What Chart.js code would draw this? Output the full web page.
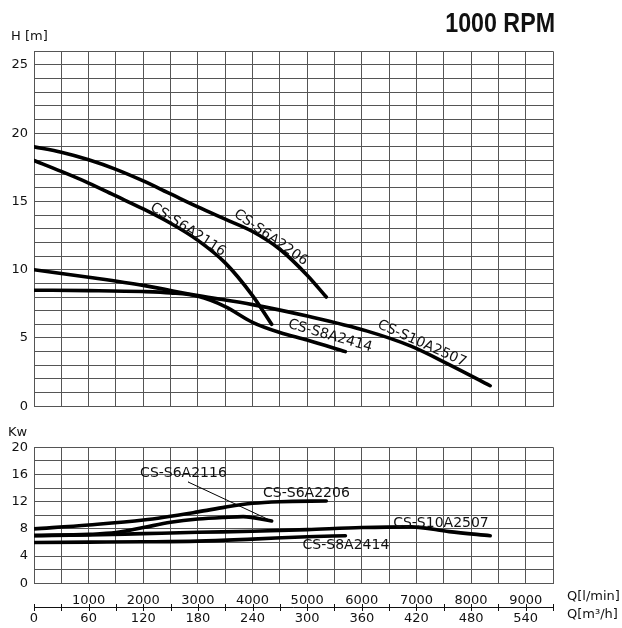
<!DOCTYPE html>
<html>
<head>
<meta charset="utf-8">
<script src="https://cdn.jsdelivr.net/npm/chart.js@4.4.1/dist/chart.umd.min.js"></script>
<style>
html, body { margin: 0; padding: 0; background: #fff; }
#haut { position: absolute; left: 0; top: 0; }
#bas { position: absolute; left: 0; top: 420px; }
</style>
</head>
<body>
<canvas id="haut" width="622" height="420"></canvas>
<canvas id="bas" width="622" height="208"></canvas>
<script>
// courbes H-Q (debit en l/min, hauteur en m)
const qS6A2206 = [0, 500, 1000, 1500, 2000, 2500, 3000, 3500, 4000, 4500, 5000, 5350];
const hS6A2206 = [19.0, 18.6, 18.05, 17.35, 16.5, 15.55, 14.6, 13.7, 12.8, 11.5, 9.6, 8.0];

const qS6A2116 = [0, 500, 1000, 1500, 2000, 2500, 3000, 3500, 4000, 4350];
const hS6A2116 = [18.0, 17.2, 16.35, 15.4, 14.45, 13.4, 12.15, 10.5, 8.1, 6.0];

const qS10A2507 = [0, 1000, 2000, 3000, 4000, 5000, 6100, 6900, 7600, 8350];
const hS10A2507 = [10.0, 9.45, 8.85, 8.1, 7.44, 6.6, 5.5, 4.4, 3.05, 1.5];

const qS8A2414 = [0, 1000, 2000, 2500, 3000, 3500, 4000, 4500, 5000, 5700];
const hS8A2414 = [8.5, 8.47, 8.4, 8.3, 8.05, 7.3, 6.15, 5.4, 4.85, 4.0];

// courbes puissance (kW)
const qpS6A2206 = [0, 1000, 2000, 3000, 3500, 4000, 4500, 5350];
const pS6A2206 = [8.0, 8.57, 9.3, 10.5, 11.2, 11.76, 12.0, 12.1];

const qpS6A2116 = [0, 1000, 1500, 2000, 2500, 3000, 3500, 3830, 4350];
const pS6A2116 = [7.05, 7.2, 7.45, 8.2, 8.97, 9.45, 9.7, 9.8, 9.16];

const qpS10A2507 = [0, 1000, 2000, 3000, 4000, 5000, 6000, 6900, 7600, 8350];
const pS10A2507 = [7.0, 7.1, 7.3, 7.5, 7.65, 7.9, 8.2, 8.3, 7.6, 7.0];

const qpS8A2414 = [0, 1000, 2000, 3000, 4000, 5000, 5700];
const pS8A2414 = [6.0, 6.05, 6.1, 6.2, 6.5, 6.85, 7.0];

// trait de rappel pour l'etiquette CS-S6A2116 (kW)
const qRappel = [2820, 4350];
const pRappel = [14.9, 9.16];

// graduations
const ticksH = [0, 5, 10, 15, 20, 25];
const ticksKw = [0, 4, 8, 12, 16, 20];
const ticksQ = [0, 1000, 2000, 3000, 4000, 5000, 6000, 7000, 8000, 9000];
const labelsLmin = ['', '1000', '2000', '3000', '4000', '5000', '6000', '7000', '8000', '9000'];
const labelsM3h = ['0', '60', '120', '180', '240', '300', '360', '420', '480', '540'];

const police = '"DejaVu Sans", sans-serif';
Chart.defaults.font.family = police;
Chart.defaults.font.size = 13;
Chart.defaults.color = '#111';

const grille = '#555';

function serie(q, v, largeur) {
    return {
        data: q.map((x, i) => ({ x: x, y: v[i] })),
        borderColor: '#000',
        borderWidth: largeur || 3.6,
        borderCapStyle: 'round',
        pointRadius: 0,
        cubicInterpolationMode: 'monotone',
        fill: false
    };
}

// textes libres + etiquettes des courbes
const textes = {
    id: 'textes',
    afterDraw(chart, args, opts) {
        const ctx = chart.ctx;
        const sx = chart.scales.x, sy = chart.scales.y;
        ctx.save();
        ctx.fillStyle = '#111';
        (opts.etiquettes || []).forEach(e => {
            ctx.save();
            ctx.translate(sx.getPixelForValue(e.q), sy.getPixelForValue(e.v));
            ctx.rotate(e.angle * Math.PI / 180);
            ctx.font = '14px ' + police;
            ctx.textAlign = 'center';
            ctx.textBaseline = 'middle';
            ctx.fillText(e.texte, 0, 0);
            ctx.restore();
        });
        (opts.libres || []).forEach(t => {
            ctx.save();
            ctx.translate(t.x, t.y);
            ctx.scale(t.etire || 1, 1);
            ctx.font = t.font;
            ctx.textAlign = t.align;
            ctx.textBaseline = t.base;
            ctx.fillText(t.texte, 0, 0);
            ctx.restore();
        });
        if (opts.axeQ) {
            const y = opts.axeQ;
            ctx.strokeStyle = '#111';
            ctx.lineWidth = 1;
            ctx.beginPath();
            ctx.moveTo(sx.left, y + 0.5);
            ctx.lineTo(sx.right, y + 0.5);
            for (let v = 0; v <= 9500; v += 500) {
                const x = Math.round(sx.getPixelForValue(v)) + 0.5;
                ctx.moveTo(x, y - 3);
                ctx.lineTo(x, y + 4);
            }
            ctx.stroke();
        }
        ctx.restore();
    }
};

new Chart(document.getElementById('haut'), {
    type: 'line',
    data: {
        datasets: [
            serie(qS6A2206, hS6A2206),
            serie(qS6A2116, hS6A2116),
            serie(qS10A2507, hS10A2507),
            serie(qS8A2414, hS8A2414)
        ]
    },
    options: {
        responsive: false,
        animation: false,
        layout: { padding: { top: 51.3, right: 69, left: 0, bottom: 0 } },
        plugins: {
            legend: { display: false },
            tooltip: { enabled: false },
            textes: {
                etiquettes: [
                    { texte: 'CS-S6A2116', q: 2818, v: 12.93, angle: 33 },
                    { texte: 'CS-S6A2206', q: 4337, v: 12.34, angle: 35 },
                    { texte: 'CS-S8A2414', q: 5420, v: 5.15, angle: 16 },
                    { texte: 'CS-S10A2507', q: 7101, v: 4.59, angle: 24 }
                ],
                libres: [
                    { texte: '1000 RPM', x: 555, y: 31.7, align: 'right', base: 'alphabetic', etire: 0.83,
                      font: 'bold 28px "Liberation Sans", Arial, sans-serif' },
                    { texte: 'H [m]', x: 11, y: 37, align: 'left', base: 'middle', font: '13px ' + police }
                ]
            }
        },
        scales: {
            x: {
                type: 'linear',
                min: 0,
                max: 9500,
                ticks: { stepSize: 500, display: false },
                grid: { color: grille, drawTicks: false },
                border: { color: grille },
                afterFit: s => { s.height = 13.3; }
            },
            y: {
                min: 0,
                max: 26,
                ticks: {
                    stepSize: 1,
                    autoSkip: false,
                    padding: 6,
                    callback: v => ticksH.includes(v) ? String(v) : ''
                },
                grid: { color: grille, drawTicks: false },
                border: { color: grille },
                afterFit: s => { s.width = 34; }
            }
        }
    },
    plugins: [textes]
});

const rappel = serie(qRappel, pRappel, 1);
rappel.cubicInterpolationMode = 'default';

new Chart(document.getElementById('bas'), {
    type: 'line',
    data: {
        datasets: [
            serie(qpS6A2206, pS6A2206),
            serie(qpS6A2116, pS6A2116),
            serie(qpS10A2507, pS10A2507),
            serie(qpS8A2414, pS8A2414),
            rappel
        ]
    },
    options: {
        responsive: false,
        animation: false,
        layout: { padding: { top: 27.3, right: 69, left: 0, bottom: 0 } },
        plugins: {
            legend: { display: false },
            tooltip: { enabled: false },
            textes: {
                etiquettes: [
                    { texte: 'CS-S6A2116', q: 2736, v: 16.2, angle: 0 },
                    { texte: 'CS-S6A2206', q: 4987, v: 13.28, angle: 0 },
                    { texte: 'CS-S10A2507', q: 7449, v: 8.87, angle: 0 },
                    { texte: 'CS-S8A2414', q: 5710, v: 5.63, angle: 0 }
                ],
                libres: [
                    { texte: 'Kw', x: 8, y: 12.5, align: 'left', base: 'middle', font: '13px ' + police },
                    { texte: 'Q[l/min]', x: 567, y: 177, align: 'left', base: 'middle', font: '13px ' + police },
                    { texte: 'Q[m\u00b3/h]', x: 567, y: 195, align: 'left', base: 'middle', font: '13px ' + police }
                ],
                axeQ: 187
            }
        },
        scales: {
            x: {
                type: 'linear',
                min: 0,
                max: 9500,
                ticks: {
                    stepSize: 500,
                    autoSkip: false,
                    maxRotation: 0,
                    padding: 8,
                    font: { size: 13, lineHeight: 1.4 },
                    callback: v => {
                        const i = ticksQ.indexOf(v);
                        return i < 0 ? '' : [labelsLmin[i], labelsM3h[i]];
                    }
                },
                grid: { color: grille, drawTicks: false },
                border: { color: grille },
                afterFit: s => { s.height = 44.7; }
            },
            y: {
                min: 0,
                max: 20,
                ticks: {
                    stepSize: 2,
                    autoSkip: false,
                    padding: 6,
                    callback: v => ticksKw.includes(v) ? String(v) : ''
                },
                grid: { color: grille, drawTicks: false },
                border: { color: grille },
                afterFit: s => { s.width = 34; }
            }
        }
    },
    plugins: [textes]
});
</script>
</body>
</html>
